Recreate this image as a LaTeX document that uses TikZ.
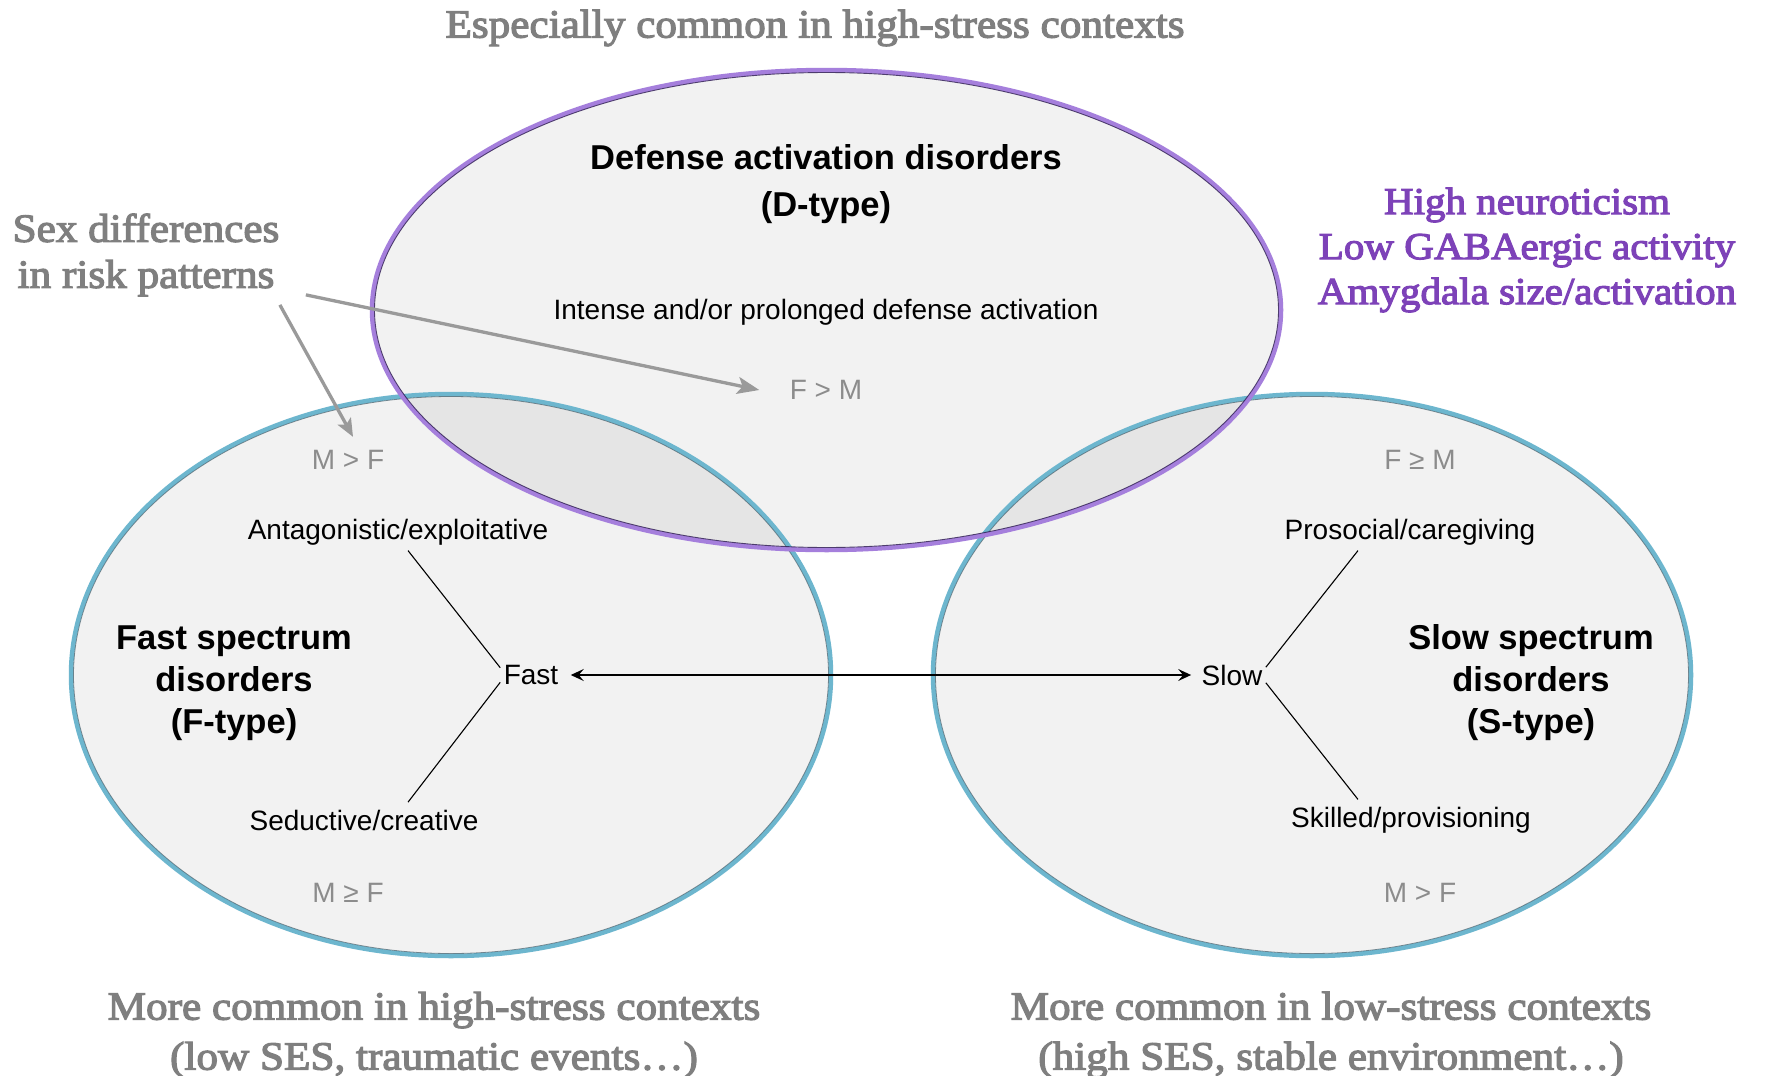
\documentclass[tikz,border=0pt]{standalone}
\usepackage{fontspec}
\setsansfont{Liberation Sans}
\newfontfamily\garfont{Liberation Serif}[FakeStretch=1.08,FakeBold=3]
\usetikzlibrary{arrows.meta}
\definecolor{capgray}{HTML}{7F7F7F}
\definecolor{sexgray}{HTML}{9A9A9A}
\definecolor{ratiogray}{HTML}{8C8C8C}
\definecolor{riskpurple}{HTML}{7D42B8}
\definecolor{dring}{HTML}{A57FDC}
\definecolor{dedge}{HTML}{2B1850}
\definecolor{fsring}{HTML}{6DB6CE}
\definecolor{fsedge}{HTML}{1E3A48}
\begin{document}
\begin{tikzpicture}[x=1pt,y=-1pt,
  serifcap/.style={font=\garfont\fontsize{40}{46}\selectfont, text=capgray, align=center},
  purplecap/.style={font=\garfont\fontsize{38}{45}\selectfont, text=riskpurple, align=center},
  bigtitle/.style={font=\sffamily\bfseries\fontsize{34.5}{42}\selectfont, align=center},
  plain/.style={font=\sffamily\fontsize{28}{34}\selectfont},
  ratio/.style={font=\sffamily\fontsize{28}{34}\selectfont, text=ratiogray},
  zonefill/.style={fill=black, fill opacity=0.05},
  pointer/.style={draw=sexgray, line width=3.3pt, -{Stealth[length=22pt,width=17pt,inset=5pt]}},
  branch/.style={draw=black, line width=1.1pt},
  axisarrow/.style={draw=black, line width=1.4pt, {Stealth[length=13pt,width=12pt,inset=5pt]}-{Stealth[length=13pt,width=12pt,inset=5pt]}}
]
\useasboundingbox (0,0) rectangle (1767,1076);
\fill[white] (0,0) rectangle (1767,1076);

% translucent fills so the overlaps come out darker
\fill[zonefill] (826.5,310) ellipse [x radius=454.5pt, y radius=240pt];
\fill[zonefill] (451,675) ellipse [x radius=380pt, y radius=281pt];
\fill[zonefill] (1312,675) ellipse [x radius=379pt, y radius=281pt];

% outlines: coloured ring with a thin dark inner edge
\draw[fsring, line width=4.5pt] (451,675) ellipse [x radius=380pt, y radius=281pt];
\draw[fsedge, line width=0.8pt, opacity=0.55] (451,675) ellipse [x radius=377.5pt, y radius=278.5pt];
\draw[fsring, line width=4.5pt] (1312,675) ellipse [x radius=379pt, y radius=281pt];
\draw[fsedge, line width=0.8pt, opacity=0.55] (1312,675) ellipse [x radius=376.5pt, y radius=278.5pt];
\draw[dring, line width=4.5pt] (826.5,310) ellipse [x radius=454.5pt, y radius=240pt];
\draw[dedge, line width=0.9pt, opacity=0.8] (826.5,310) ellipse [x radius=452pt, y radius=237.5pt];

% captions
\node[serifcap] (top) at (815,28) {Especially common in high-stress contexts};
\node[serifcap] (sex) at (146,255) {Sex differences\\in risk patterns};
\node[purplecap] (bio) at (1527,250) {High neuroticism\\Low GABAergic activity\\Amygdala size/activation};
\node[serifcap, font=\garfont\fontsize{40}{50}\selectfont] (lowctx) at (434,1035) {More common in high-stress contexts\\(low SES, traumatic events\ldots)};
\node[serifcap, font=\garfont\fontsize{40}{50}\selectfont] (highctx) at (1331,1035) {More common in low-stress contexts\\(high SES, stable environment\ldots)};

% D-type
\node[bigtitle, font=\sffamily\bfseries\fontsize{34.5}{47}\selectfont] (dtitle) at (826,184.5) {Defense activation disorders\\(D-type)};
\node[plain] (dtext) at (826,312) {Intense and/or prolonged defense activation};
\node[ratio] (dratio) at (826,390) {F > M};

% F-type
\node[bigtitle] (ftitle) at (234,683) {Fast spectrum\\disorders\\(F-type)};
\node[ratio] (fratiotop) at (348,460) {M > F};
\node[ratio] (fratiobot) at (348,893) {M ≥ F};
\node[plain] (ant) at (398,532) {Antagonistic/exploitative};
\node[plain] (sed) at (364,820) {Seductive/creative};
\node[plain] (fast) at (531,675) {Fast};

% S-type
\node[bigtitle] (stitle) at (1531,683) {Slow spectrum\\disorders\\(S-type)};
\node[ratio] (sratiotop) at (1420,460) {F ≥ M};
\node[ratio] (sratiobot) at (1420,893) {M > F};
\node[plain] (pro) at (1410,532) {Prosocial/caregiving};
\node[plain] (ski) at (1411,820) {Skilled/provisioning};
\node[plain] (slow) at (1232,675) {Slow};

% branches
\draw[branch] ([yshift=-6pt]fast.north west) -- ([xshift=10pt,yshift=-2pt]ant.south);
\draw[branch] ([yshift=6pt]fast.south west) -- ([xshift=44pt,yshift=4pt]sed.north);
\draw[branch] ([yshift=-6pt]slow.north east) -- ([xshift=-52pt,yshift=-2pt]pro.south);
\draw[branch] ([yshift=6pt]slow.south east) -- ([xshift=-53pt,yshift=4pt]ski.north);

% fast--slow axis
\draw[axisarrow] ([xshift=9pt]fast.east) -- ([xshift=-7pt]slow.west);

% pointers from the sex-difference caption
\draw[pointer] ([xshift=23pt,yshift=5pt]sex.south east) -- ([xshift=-27pt]dratio.west);
\draw[pointer, -{Stealth[length=18pt,width=15pt,inset=4pt]}] ([xshift=-3pt,yshift=-5pt]sex.south east) -- ([xshift=5pt,yshift=10pt]fratiotop.north);
\end{tikzpicture}
\end{document}
